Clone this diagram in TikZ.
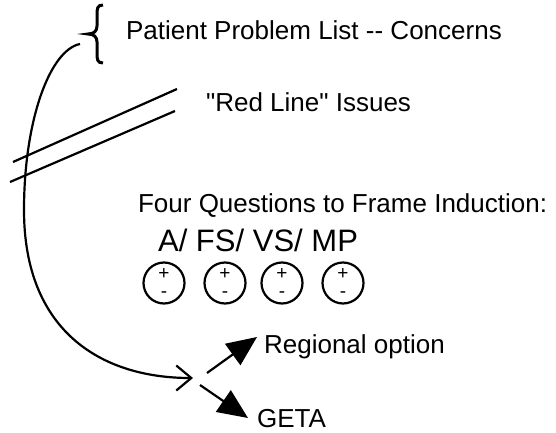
\documentclass[tikz,border=0pt]{standalone}
\usepackage{fontspec}
\setmainfont{Liberation Sans}[Ligatures=TeXOff]
\usetikzlibrary{arrows.meta}

\begin{document}
\begin{tikzpicture}[x=1pt, y=-1pt, line width=2.2pt]
  \tikzstyle{label} = [anchor=base west, inner sep=0pt, font=\fontsize{26}{30}\selectfont]
  \tikzstyle{big_label} = [label, font=\fontsize{31}{36}\selectfont]
  \tikzstyle{question} = [circle, draw, inner sep=0pt, minimum size=41pt]
  \tikzstyle{sign} = [inner sep=0pt, font=\fontsize{19}{19}\selectfont]
  \tikzstyle{option} = [-{Triangle[length=30pt, width=26pt]}]

  \useasboundingbox (0,0) rectangle (556,433);

  % Text labels
  \node[label] (concerns) at (125, 40) {Patient Problem List -- Concerns};
  \node[label] (redline) at (205, 112) {"Red Line" Issues};
  \node[label] (four) at (137, 212) {Four Questions to Frame Induction:};
  \node[big_label] (afs) at (157, 251) {A/ FS/ VS/ MP};
  \node[label] (regional) at (263, 353) {Regional option};
  \node[label] (geta) at (256, 427) {GETA};

  % Brace
  \draw[line width=3pt] (103,5) .. controls (97,5) and (97,9) .. (97,15) -- (97,26)
    .. controls (97,31) and (94,34) .. (88,34)
    .. controls (94,34) and (97,37) .. (97,42) -- (97,53)
    .. controls (97,59) and (97,63) .. (103,63);

  % Red lines
  \draw (13,162) -- (177,89);
  \draw (10,182) -- (175,111);

  % Question circles
  \foreach \n/\x in {1/164, 2/225, 3/282, 4/343}
    {
    \node[question] (q\n) at (\x, 283) {};
    \node[sign] (plus\n) at (\x, 274) {+};
    \node[sign] (minus\n) at (\x, 295) {-};
    }

  % Path from concerns down to the choice
  \coordinate (start) at (80,44);
  \coordinate (choice) at (193,378);
  \draw[-{Straight Barb[length=15pt, width=25pt]}] (start)
    .. controls (50,50) and (24,120) .. (24,210)
    .. controls (24,330) and (100,378) .. (choice);

  % Options
  \coordinate (up) at (207,373);
  \coordinate (down) at (200,385);
  \draw[option] (up) -- (257,337);
  \draw[option] (down) -- (248,418);

\end{tikzpicture}
\end{document}
